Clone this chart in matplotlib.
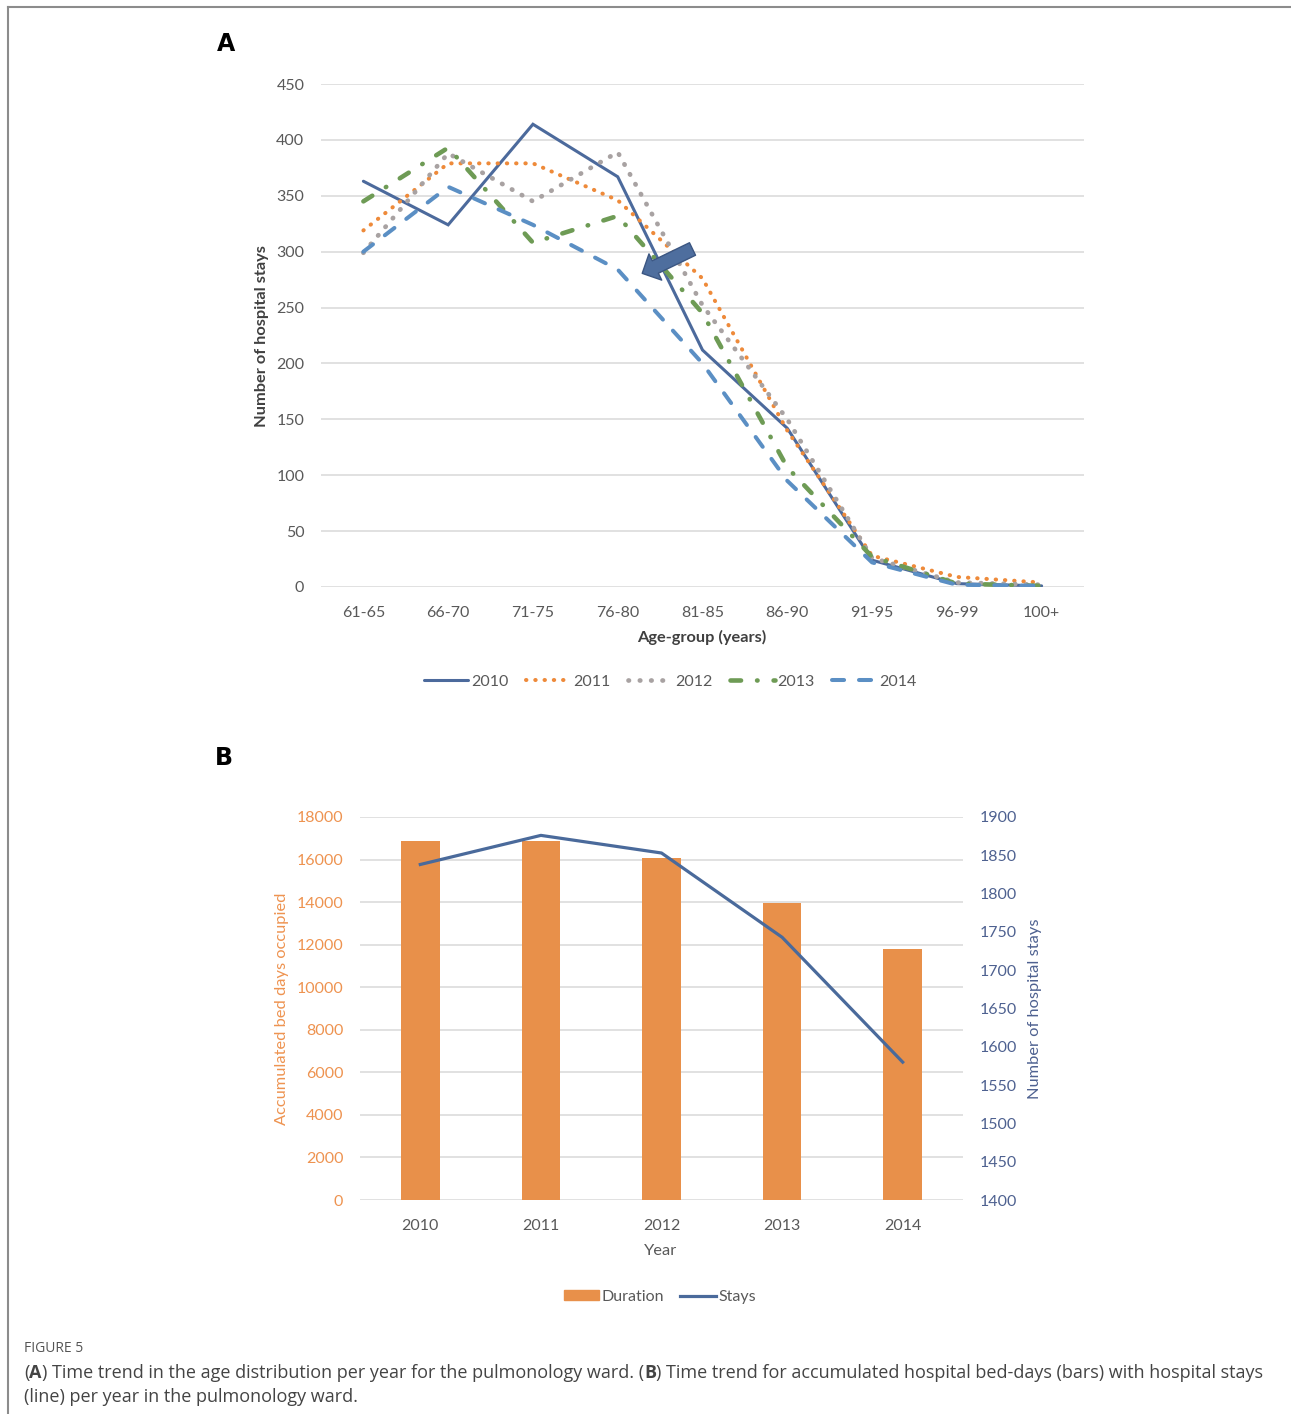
import matplotlib
matplotlib.use("Agg")
import matplotlib.pyplot as plt
from matplotlib.patches import FancyArrowPatch, Patch
from matplotlib.lines import Line2D
from matplotlib.transforms import IdentityTransform

plt.rcParams['font.family'] = ['Lato', 'DejaVu Sans']

# --- data -------------------------------------------------------------
age_groups = ["61-65", "66-70", "71-75", "76-80", "81-85", "86-90", "91-95", "96-99", "100+"]
stays_2010 = [363, 324, 414, 367, 212, 142, 24, 3, 1]
stays_2011 = [319, 379, 379, 346, 276, 140, 28, 9, 4]
stays_2012 = [299, 388, 345, 389, 252, 150, 26, 4, 2]
stays_2013 = [345, 393, 308, 332, 245, 107, 27, 3, 1]
stays_2014 = [300, 358, 324, 284, 200, 95, 22, 2, 1]
series_labels = ["2010", "2011", "2012", "2013", "2014"]

years = ["2010", "2011", "2012", "2013", "2014"]
bed_days = [16860, 16860, 16060, 13980, 11800]
total_stays = [1838, 1876, 1853, 1743, 1580]

# --- styling ----------------------------------------------------------
GRID = "#D9D9D9"
TICK = "#595959"
ORANGE = "#E8904A"
ORANGE_TXT = "#EE9350"
NAVY = "#4A6A9B"
NAVY_TXT = "#4E6190"

W, H = 1291, 1414
fig = plt.figure(figsize=(W / 100, H / 100), dpi=100)


def fx(px):
    return px / W


def fy(py):
    return 1 - py / H


# frame around the figure
fig.add_artist(Line2D([fx(8), fx(8)], [0, fy(7)], transform=fig.transFigure,
                      color="#8C8C8C", lw=1.5))
fig.add_artist(Line2D([fx(8), fx(1290)], [fy(7), fy(7)], transform=fig.transFigure,
                      color="#8C8C8C", lw=1.5))

# ===================== panel A =====================
axA = fig.add_axes([fx(321), fy(587), fx(1084) - fx(321), fy(84) - fy(587)])
x = list(range(len(age_groups)))

styles = [
    dict(color="#4C6A9C", lw=2.2, ls="-"),
    dict(color="#EE8A3A", lw=2.9, dashes=(0.1, 2.2)),
    dict(color="#A8A2A2", lw=3.4, dashes=(0.1, 2.3)),
    dict(color="#6E9B55", lw=3.3, dashes=(2.3, 3.5, 0.1, 3.5)),
    dict(color="#5B8FC4", lw=2.9, dashes=(3.0, 3.7)),
]
all_series = [stays_2010, stays_2011, stays_2012, stays_2013, stays_2014]
handles = []
for vals, st, lab in zip(all_series, styles, series_labels):
    ln, = axA.plot(x, vals, label=lab, solid_capstyle="round",
                   dash_capstyle="round", solid_joinstyle="miter", zorder=3, **st)
    handles.append(ln)

axA.set_xlim(-0.5, len(age_groups) - 0.5)
axA.set_ylim(0, 450)
axA.set_yticks(range(0, 451, 50))
axA.set_xticks(x)
axA.set_xticklabels(age_groups)
axA.grid(axis="y", color=GRID, lw=1.1)
axA.set_axisbelow(True)
for s in axA.spines.values():
    s.set_visible(False)
axA.tick_params(length=0, labelsize=11.5, labelcolor=TICK)
axA.tick_params(axis="y", pad=12)
axA.tick_params(axis="x", pad=14)

# arrow marking the shift of the peak
arrow = FancyArrowPatch((3.882, 302.4), (3.289, 280.6),
                        arrowstyle="simple,head_width=2.1,head_length=1.05,tail_width=1.0",
                        mutation_scale=10, shrinkA=0, shrinkB=0,
                        fc="#4E6E9E", ec="#3B5682", lw=1.0, zorder=5)
axA.add_patch(arrow)

fig.text(fx(226), fy(44), "A", fontsize=17, fontweight="bold",
         family=["DejaVu Sans"], ha="center", va="center")
fig.text(fx(262), fy(336), "Number of hospital stays", rotation=90, fontsize=11.8,
         fontweight="bold", color="#404040", ha="center", va="center")
fig.text(fx(702), fy(637), "Age-group (years)", fontsize=11.8, fontweight="bold",
         color="#404040", ha="center", va="center")
fig.legend(handles=handles, loc="center", bbox_to_anchor=(fx(670), fy(682)), ncol=5,
           frameon=False, fontsize=11.5, labelcolor=TICK, handlelength=2.8,
           handletextpad=0.15, columnspacing=1.1)

# ===================== panel B =====================
axB = fig.add_axes([fx(360), fy(1200), fx(963) - fx(360), fy(817) - fy(1200)])
xb = list(range(len(years)))
bars = axB.bar(xb, bed_days, width=0.32, color=ORANGE, zorder=2, label="Duration")
axB.set_xlim(-0.5, len(years) - 0.5)
axB.set_ylim(0, 18000)
axB.set_yticks(range(0, 18001, 2000))
axB.set_xticks(xb)
axB.set_xticklabels(years)
axB.grid(axis="y", color=GRID, lw=1.1)
axB.set_axisbelow(True)
for s in axB.spines.values():
    s.set_visible(False)
axB.tick_params(length=0, labelsize=11.5)
axB.tick_params(axis="y", pad=12, labelcolor=ORANGE_TXT)
axB.tick_params(axis="x", pad=14, labelcolor=TICK)

axB2 = axB.twinx()
stays_line, = axB2.plot(xb, total_stays, color=NAVY, lw=2.3, zorder=4, label="Stays")
axB2.set_ylim(1400, 1900)
axB2.set_yticks(range(1400, 1901, 50))
for s in axB2.spines.values():
    s.set_visible(False)
axB2.tick_params(length=0, labelsize=11.5, labelcolor=NAVY_TXT, pad=12)

fig.text(fx(224), fy(758), "B", fontsize=17, fontweight="bold",
         family=["DejaVu Sans"], ha="center", va="center")
fig.text(fx(282), fy(1009), "Accumulated bed days occupied", rotation=90, fontsize=11.8,
         color=ORANGE_TXT, ha="center", va="center")
fig.text(fx(1035), fy(1009), "Number of hospital stays", rotation=90, fontsize=11.8,
         color=NAVY_TXT, ha="center", va="center")
fig.text(fx(661), fy(1251), "Year", fontsize=11.8, color=TICK, ha="center", va="center")
fig.legend(handles=[Patch(color=ORANGE, label="Duration"),
                    Line2D([], [], color=NAVY, lw=2.3, label="Stays")],
           loc="center", bbox_to_anchor=(fx(660), fy(1297)), ncol=2, frameon=False,
           fontsize=11.5, labelcolor=TICK, handlelength=2.2, handleheight=0.6,
           handletextpad=0.2, columnspacing=1.0)

# ===================== caption =====================
renderer = fig.canvas.get_renderer()


def text_runs(px, py, runs, size, color):
    """Draw consecutive text pieces in pixel coordinates, switching weight."""
    cur = px
    for s, weight in runs:
        t = fig.text(cur, H - py, s, fontsize=size, fontweight=weight, color=color,
                     family=["Open Sans", "DejaVu Sans"], va="center", ha="left",
                     transform=IdentityTransform())
        cur += t.get_window_extent(renderer).width


fig.text(fx(24), fy(1349), "FIGURE 5", fontsize=10, color="#555555",
         family=["Open Sans", "DejaVu Sans"], va="center", ha="left")
text_runs(24, 1373, [("(", "normal"), ("A", "bold"),
                     (") Time trend in the age distribution per year for the pulmonology ward. (", "normal"),
                     ("B", "bold"),
                     (") Time trend for accumulated hospital bed-days (bars) with hospital stays", "normal")],
          13, "#444444")
text_runs(24, 1397, [("(line) per year in the pulmonology ward.", "normal")], 13, "#444444")

fig.savefig("out.png", dpi=100)
